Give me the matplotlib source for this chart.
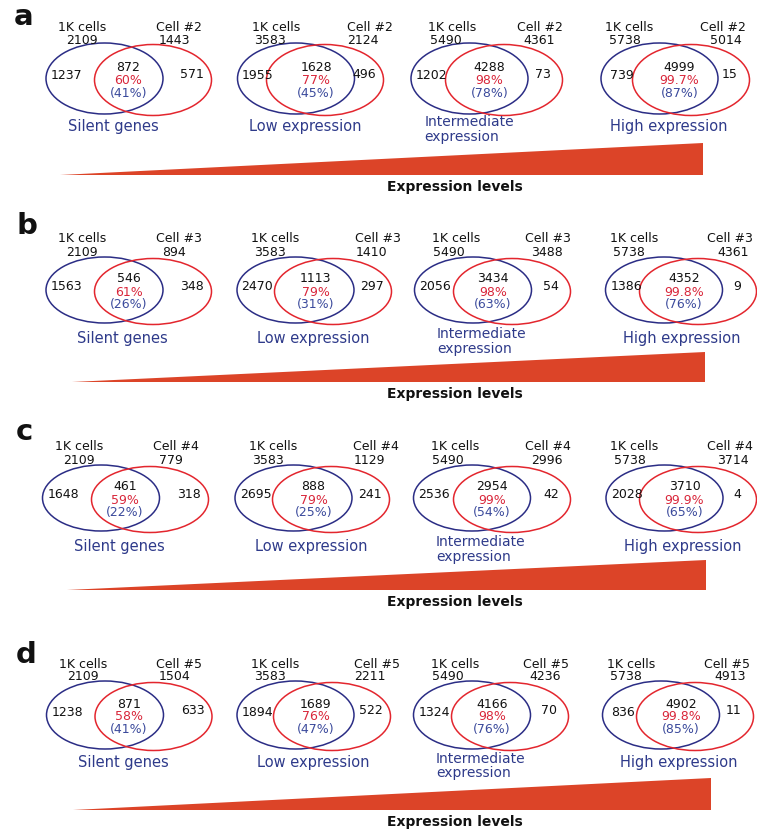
import matplotlib
matplotlib.use("Agg")
import matplotlib.pyplot as plt
from matplotlib.patches import Ellipse

plt.rcParams['font.family'] = 'DejaVu Sans'

# ---- data ----
panels = ['a', 'b', 'c', 'd']
cell_names = ['Cell #2', 'Cell #3', 'Cell #4', 'Cell #5']
categories = ['Silent genes', 'Low expression', 'Intermediate\nexpression', 'High expression']
bulk_totals = [2109, 3583, 5490, 5738]

cell_totals = [[1443, 2124, 4361, 5014],
               [894, 1410, 3488, 4361],
               [779, 1129, 2996, 3714],
               [1504, 2211, 4236, 4913]]
bulk_only = [[1237, 1955, 1202, 739],
             [1563, 2470, 2056, 1386],
             [1648, 2695, 2536, 2028],
             [1238, 1894, 1324, 836]]
shared = [[872, 1628, 4288, 4999],
          [546, 1113, 3434, 4352],
          [461, 888, 2954, 3710],
          [871, 1689, 4166, 4902]]
cell_only = [[571, 496, 73, 15],
             [348, 297, 54, 9],
             [318, 241, 42, 4],
             [633, 522, 70, 11]]
pct_of_cell = [['60%', '77%', '98%', '99.7%'],
               ['61%', '79%', '98%', '99.8%'],
               ['59%', '79%', '99%', '99.9%'],
               ['58%', '76%', '98%', '99.8%']]
pct_of_bulk = [[41, 45, 78, 87],
               [26, 31, 63, 76],
               [22, 25, 54, 65],
               [41, 47, 76, 85]]

# ---- layout (pixels) ----
row_y = [78.5, 290, 498, 715]
ell_h = [71, 66, 66, 68]
blue_x = [[104.5, 296, 469.5, 659.5],
          [104.5, 295.5, 473, 664],
          [101, 293.5, 472, 664.5],
          [105, 295.5, 472, 661]]
red_x = [[153, 325, 504, 691],
         [153, 333, 512, 698],
         [150, 331, 512, 698],
         [153.5, 332, 510, 695]]
label_dx = [-9, 0, 0, 0]
wedge = [(60, 703, 143, 175), (72, 705, 352, 382),
         (67, 706, 560, 590), (73, 711, 778, 810)]
letter_pos = [(24, 17), (27, 226), (24, 432), (26, 655)]

bulk_lbl_dx = [-22, -20, -17, -30]
bulk_num_dx = [-22.5, -26, -24, -35]
cell_lbl_dx = [26, 45, 36, 32]
cell_num_dx = [21, 38, 35, 35]
mid_dx = [24, 20, 20, 20]

BLUE = '#2b2d85'
RED = '#e3262e'
PCT_RED = '#d9263a'
PAR_BLUE = '#3b4a9c'
LBL_BLUE = '#2e3a8a'
WEDGE = '#dc4428'
TXT = '#111111'

fig = plt.figure(figsize=(7.57, 8.31), dpi=100)
ax = fig.add_axes([0, 0, 1, 1])
ax.set_xlim(0, 757)
ax.set_ylim(831, 0)
ax.axis('off')

fs = 9
for r in range(4):
    y = row_y[r]
    ax.text(*letter_pos[r], panels[r], fontsize=21, fontweight='bold',
            ha='center', va='center', color='#111111')
    for k in range(4):
        bx, rx = blue_x[r][k], red_x[r][k]
        ax.add_patch(Ellipse((bx, y), 117, ell_h[r], fill=False,
                             edgecolor=BLUE, lw=1.1))
        ax.add_patch(Ellipse((rx, y + 1.5), 117, ell_h[r], fill=False,
                             edgecolor=RED, lw=1.1))
        ax.text(bx + bulk_lbl_dx[k], y - 51, '1K cells', fontsize=fs,
                ha='center', va='center', color=TXT)
        ax.text(bx + bulk_num_dx[k], y - 38, str(bulk_totals[k]), fontsize=fs,
                ha='center', va='center', color=TXT)
        ax.text(rx + cell_lbl_dx[k], y - 51, cell_names[r], fontsize=fs,
                ha='center', va='center', color=TXT)
        ax.text(rx + cell_num_dx[k], y - 38, str(cell_totals[r][k]), fontsize=fs,
                ha='center', va='center', color=TXT)
        ax.text(bx - 38, y - 3, str(bulk_only[r][k]), fontsize=fs,
                ha='center', va='center', color=TXT)
        cx = bx + mid_dx[k]
        ax.text(cx, y - 11, str(shared[r][k]), fontsize=fs,
                ha='center', va='center', color=TXT)
        ax.text(cx, y + 2, pct_of_cell[r][k], fontsize=fs,
                ha='center', va='center', color=PCT_RED)
        ax.text(cx, y + 14.5, '(%d%%)' % pct_of_bulk[r][k], fontsize=fs,
                ha='center', va='center', color=PAR_BLUE)
        ax.text(rx + 39, y - 4, str(cell_only[r][k]), fontsize=fs,
                ha='center', va='center', color=TXT)
        if '\n' in categories[k]:
            l1, l2 = categories[k].split('\n')
            ax.text(bx - 36 + label_dx[r], y + 44, l1, fontsize=10,
                    ha='left', va='center', color=LBL_BLUE)
            ax.text(bx - 36 + label_dx[r], y + 58.5, l2, fontsize=10,
                    ha='left', va='center', color=LBL_BLUE)
        else:
            ax.text(bx + 18 + label_dx[r], y + 48, categories[k], fontsize=10.5,
                    ha='center', va='center', color=LBL_BLUE)

    x0, x1, top, bot = wedge[r]
    ax.fill([x0, x1, x1], [bot, top, bot], color=WEDGE, lw=0)
    ax.text(455, bot + 12, 'Expression levels', fontsize=10, fontweight='bold',
            ha='center', va='center', color=TXT)

fig.savefig('out.png', dpi=100)
